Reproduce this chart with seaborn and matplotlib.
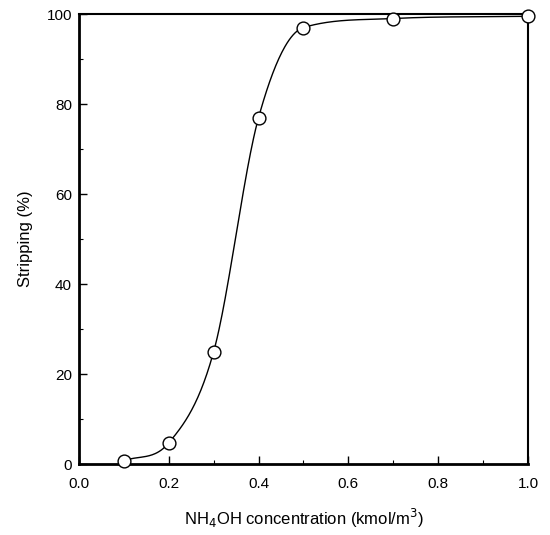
import numpy as np
import pandas as pd
import seaborn as sns
import matplotlib
matplotlib.use("Agg")
import matplotlib.pyplot as plt
from matplotlib.ticker import MultipleLocator

# --- Data ---
conc = [0.1, 0.2, 0.3, 0.4, 0.5, 0.7, 1.0]           # NH4OH, kmol/m3
stripping = [0.7, 4.7, 25.0, 77.0, 97.0, 99.0, 99.5]  # %

x_ticks = [0.0, 0.2, 0.4, 0.6, 0.8, 1.0]
x_tick_labels = ["0.0", "0.2", "0.4", "0.6", "0.8", "1.0"]
y_ticks = [0, 20, 40, 60, 80, 100]


def smooth_curve(x, y, xs):
    """Cubic Hermite curve through the measured points, centred slopes
    limited so the curve stays monotone (no overshoot near the plateau)."""
    x = np.asarray(x, float)
    y = np.asarray(y, float)
    h = np.diff(x)
    d = np.diff(y) / h
    n = len(x)
    m = np.zeros(n)
    for k in range(1, n - 1):
        c = (y[k + 1] - y[k - 1]) / (x[k + 1] - x[k - 1])
        m[k] = min(c, 3 * min(d[k - 1], d[k]))
    m[0] = d[0]
    m[-1] = d[-1]
    idx = np.clip(np.searchsorted(x, xs) - 1, 0, n - 2)
    t = (xs - x[idx]) / h[idx]
    h00 = 2 * t**3 - 3 * t**2 + 1
    h10 = t**3 - 2 * t**2 + t
    h01 = -2 * t**3 + 3 * t**2
    h11 = t**3 - t**2
    return (h00 * y[idx] + h10 * h[idx] * m[idx]
            + h01 * y[idx + 1] + h11 * h[idx] * m[idx + 1])


df = pd.DataFrame({"conc": conc, "stripping": stripping})
xs = np.linspace(min(conc), max(conc), 400)
curve = pd.DataFrame({"conc": xs, "stripping": smooth_curve(conc, stripping, xs)})

sns.set_style("white")
plt.rcParams["font.family"] = ["Liberation Sans", "DejaVu Sans"]
plt.rcParams["text.color"] = "black"
plt.rcParams["axes.labelcolor"] = "black"
plt.rcParams["xtick.color"] = "black"
plt.rcParams["ytick.color"] = "black"

fig = plt.figure(figsize=(5.5, 5.35), dpi=100)
ax = fig.add_axes([0.1436, 0.1327, 0.8164, 0.8411])

sns.lineplot(data=curve, x="conc", y="stripping", color="black", lw=1.0, ax=ax)
sns.scatterplot(data=df, x="conc", y="stripping", s=85, facecolor="white",
                edgecolor="black", linewidth=1.0, zorder=5, ax=ax, clip_on=False)

ax.set_xlim(0, 1.0)
ax.set_ylim(0, 100)
ax.set_xticks(x_ticks)
ax.set_xticklabels(x_tick_labels)
ax.set_yticks(y_ticks)
ax.xaxis.set_minor_locator(MultipleLocator(0.1))
ax.yaxis.set_minor_locator(MultipleLocator(10))
ax.tick_params(axis="both", which="major", direction="in", length=6, width=1,
               labelsize=11, top=False, right=False)
ax.tick_params(axis="x", which="major", pad=9)
ax.tick_params(axis="y", which="major", pad=5)
ax.tick_params(axis="both", which="minor", direction="in", length=3, width=0.8,
               top=False, right=False)
ax.tick_params(axis="both", which="both", bottom=True, left=True)

for side in ["left", "bottom"]:
    ax.spines[side].set_linewidth(2.0)
for side in ["top", "right"]:
    ax.spines[side].set_linewidth(1.5)
for sp in ax.spines.values():
    sp.set_color("black")

ax.set_xlabel("NH$_4$OH concentration (kmol/m$^3$)", fontsize=12, labelpad=12)
ax.set_ylabel("Stripping (%)", fontsize=12, labelpad=10)

fig.savefig("out.png", dpi=100, facecolor="white")
